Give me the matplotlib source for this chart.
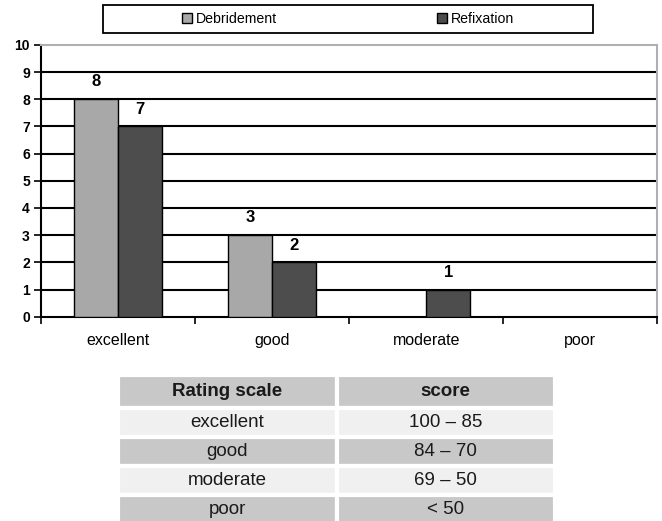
import matplotlib
matplotlib.use('Agg')
import matplotlib.pyplot as plt
import numpy as np

categories = ['excellent', 'good', 'moderate', 'poor']
debridement = [8, 3, 0, 0]
refixation = [7, 2, 1, 0]
table_header = ['Rating scale', 'score']
table_rows = [['excellent', '100 \u2013 85'],
              ['good', '84 \u2013 70'],
              ['moderate', '69 \u2013 50'],
              ['poor', '< 50']]

plt.rcParams['font.family'] = ['Liberation Sans', 'DejaVu Sans']

fig = plt.figure(figsize=(6.62, 5.21), dpi=100)
ax = fig.add_axes([0.062, 0.392, 0.931, 0.522])

x = np.arange(len(categories))
w = 0.286
b1 = ax.bar(x - w / 2, debridement, w, color='#a8a8a8', edgecolor='black', linewidth=1, zorder=3, label='Debridement')
b2 = ax.bar(x + w / 2, refixation, w, color='#4d4d4d', edgecolor='black', linewidth=1, zorder=3, label='Refixation')

for bars, vals in [(b1, debridement), (b2, refixation)]:
    for bar, v in zip(bars, vals):
        if v > 0:
            ax.annotate(str(v), (bar.get_x() + bar.get_width() / 2, v), xytext=(0, 7),
                        textcoords='offset points', ha='center', va='bottom',
                        fontsize=12, fontweight='bold')

ax.set_xlim(-0.5, len(categories) - 0.5)
ax.set_ylim(0, 10)
ax.set_yticks(range(0, 11))
ax.set_yticklabels([str(i) for i in range(11)], fontsize=10, fontweight='bold')
ax.set_xticks(x)
ax.set_xticklabels(categories, fontsize=11.5)
ax.tick_params(axis='x', length=0, pad=12)
ax.set_xticks(np.arange(-0.5, len(categories)), minor=True)
ax.tick_params(axis='x', which='minor', length=5, width=1.2, color='black')
ax.tick_params(axis='y', length=5, width=1.2, color='black', pad=3)
for yv in range(1, 10):
    ax.axhline(yv, color='black', linewidth=1.5, zorder=1)
ax.spines['left'].set_linewidth(1.5)
ax.spines['bottom'].set_linewidth(1.5)
ax.spines['top'].set_color('#b0b0b0')
ax.spines['right'].set_color('#b0b0b0')
ax.spines['top'].set_linewidth(1.5)
ax.spines['right'].set_linewidth(1.5)

# legend box across the top
box = (103 / 662, 1 - 33 / 521, 490 / 662, 28 / 521)
fig.patches.append(plt.Rectangle(box[:2], box[2], box[3], transform=fig.transFigure,
                                 fill=False, edgecolor='black', linewidth=1.3))
leg = fig.legend(handles=[b1, b2], loc='center', bbox_to_anchor=box,
                 ncol=2, fontsize=10.2, frameon=False,
                 handlelength=0.7, handleheight=0.7, handletextpad=0.25, columnspacing=11.3,
                 borderaxespad=0, borderpad=0)

# rating table
tax = fig.add_axes([118 / 662, 1 - 524 / 521, 437 / 662, 149 / 521])
tax.axis('off')
tbl = tax.table(cellText=table_rows, colLabels=table_header, cellLoc='center', bbox=[0, 0, 1, 1])
tbl.auto_set_font_size(False)
for (r, c), cell in tbl.get_celld().items():
    cell.set_edgecolor('white')
    cell.set_linewidth(3)
    cell.set_height(33 / 149 if r == 0 else 29 / 149)
    cell.set_text_props(fontsize=13.5, color='#1a1a1a')
    if r == 0:
        cell.set_facecolor('#c8c8c8')
        cell.set_text_props(fontweight='bold')
    elif r % 2 == 1:
        cell.set_facecolor('#f0f0f0')
    else:
        cell.set_facecolor('#c8c8c8')

fig.savefig('out.png', dpi=100)
